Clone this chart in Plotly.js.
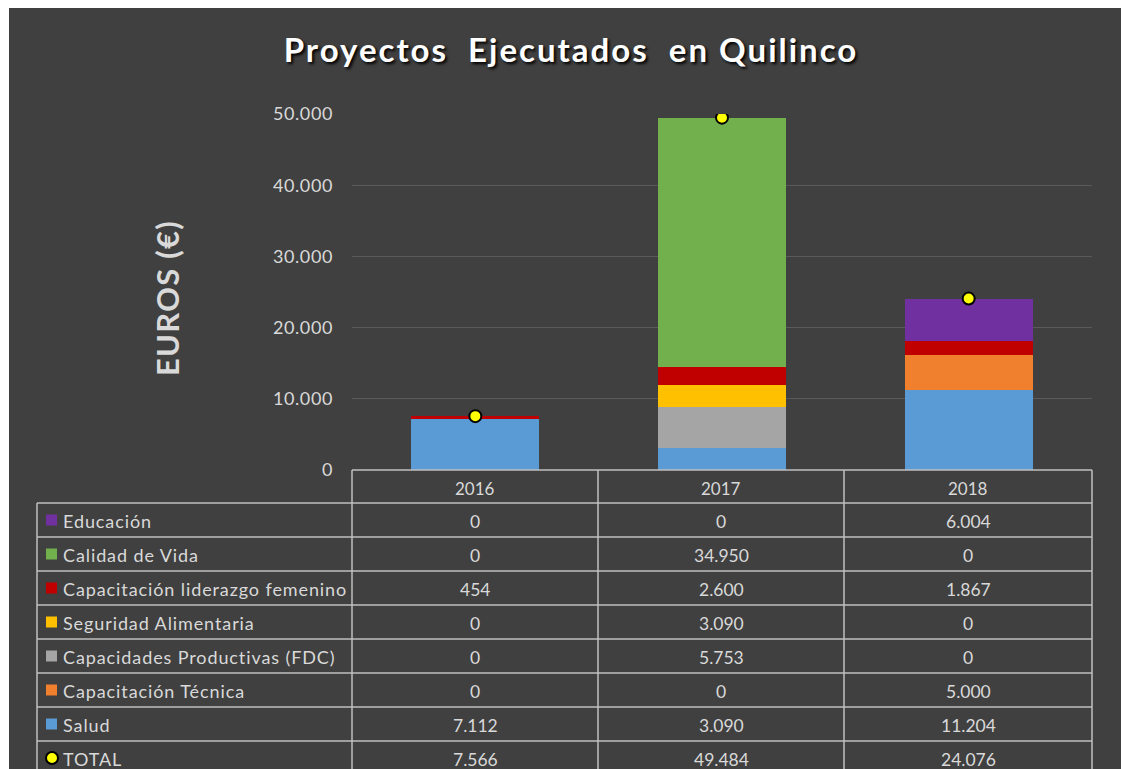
<!DOCTYPE html>
<html>
<head>
<meta charset="utf-8">
<script src="https://cdn.plot.ly/plotly-3.0.1.min.js"></script>
<style>
  body { margin: 0; background: #ffffff; }
  #chart { width: 1121px; height: 769px; }
  #chart .gtitle { letter-spacing: 2px; }
  #chart .ytick text { letter-spacing: 0.6px; }
</style>
</head>
<body>
<div id="chart"></div>
<script>
// Datos del gráfico
const years = ['2016', '2017', '2018'];
const salud = [7112, 3090, 11204];
const capTecnica = [0, 0, 5000];
const capProductivas = [0, 5753, 0];
const segAlimentaria = [0, 3090, 0];
const liderazgo = [454, 2600, 1867];
const calidadVida = [0, 34950, 0];
const educacion = [0, 0, 6004];
const totals = [7566, 49484, 24076];

const W = 1121, H = 769;
const px = x => x / W;
const py = y => 1 - y / H;

const FONT = 'Lato, "Open Sans", sans-serif';
const TXT = '#d9d9d9';
const GRID = '#bfbfbf';

// series de abajo hacia arriba
const series = [
    {name: 'Salud', y: salud, color: '#5b9bd5'},
    {name: 'Capacitación Técnica', y: capTecnica, color: '#f07f2e'},
    {name: 'Capacidades Productivas (FDC)', y: capProductivas, color: '#a5a5a5'},
    {name: 'Seguridad Alimentaria', y: segAlimentaria, color: '#ffc000'},
    {name: 'Capacitación liderazgo femenino', y: liderazgo, color: '#c00000'},
    {name: 'Calidad de Vida', y: calidadVida, color: '#72b04e'},
    {name: 'Educación', y: educacion, color: '#7030a0'}
];

const traces = series.map(s => ({
    x: years,
    y: s.y,
    type: 'bar',
    name: s.name,
    marker: {color: s.color},
    hoverinfo: 'name+y'
}));

traces.push({
    x: years,
    y: totals,
    type: 'scatter',
    mode: 'markers',
    name: 'TOTAL',
    marker: {color: '#ffff00', size: 12, line: {color: '#000000', width: 2}}
});

function fmt(v) {
    return String(v).replace(/\B(?=(\d{3})+(?!\d))/g, '.');
}

// tabla de datos debajo del gráfico
const colX = [352, 598, 844, 1092];
const labelLeft = 37;
const headerTop = 470, rowTop = 503, rowH = 34;
const tableRows = series.slice().reverse().map(s => ({name: s.name, values: s.y, color: s.color}));
tableRows.push({name: 'TOTAL', values: totals, color: null});

const shapes = [];
const annotations = [];

// fondo oscuro
shapes.push({type: 'rect', xref: 'paper', yref: 'paper', layer: 'below',
    x0: px(9), x1: px(W), y0: py(H), y1: py(8),
    fillcolor: '#404040', line: {width: 0}});

function hline(x0, x1, y) {
    shapes.push({type: 'line', xref: 'paper', yref: 'paper',
        x0: px(x0), x1: px(x1), y0: py(y), y1: py(y),
        line: {color: GRID, width: 1.5}});
}
function vline(x, y0, y1) {
    shapes.push({type: 'line', xref: 'paper', yref: 'paper',
        x0: px(x), x1: px(x), y0: py(y0), y1: py(y1),
        line: {color: GRID, width: 1.5}});
}

hline(colX[0], colX[3], headerTop);
for (let i = 0; i <= tableRows.length; i++) {
    hline(labelLeft, colX[3], rowTop + i * rowH);
}
vline(labelLeft, rowTop, H);
colX.forEach(x => vline(x, headerTop, H));

years.forEach((yr, j) => {
    annotations.push({xref: 'paper', yref: 'paper',
        x: px((colX[j] + colX[j + 1]) / 2), y: py(headerTop + rowH / 2 + 1),
        text: yr, showarrow: false, xanchor: 'center', yanchor: 'middle',
        font: {family: FONT, size: 17, color: TXT}});
});

tableRows.forEach((r, i) => {
    const cy = rowTop + i * rowH + rowH / 2;
    if (r.color) {
        shapes.push({type: 'rect', xref: 'paper', yref: 'paper',
            x0: px(46), x1: px(57), y0: py(cy + 5.5), y1: py(cy - 5.5),
            fillcolor: r.color, line: {width: 0}});
    } else {
        shapes.push({type: 'circle', xref: 'paper', yref: 'paper',
            x0: px(46), x1: px(58), y0: py(cy + 6), y1: py(cy - 6),
            fillcolor: '#ffff00', line: {color: '#000000', width: 2}});
    }
    annotations.push({xref: 'paper', yref: 'paper',
        x: px(61), y: py(cy + 1),
        text: '<span style="letter-spacing:0.9px">' + r.name + '</span>',
        showarrow: false, xanchor: 'left', yanchor: 'middle',
        font: {family: FONT, size: 18, color: TXT}});
    r.values.forEach((v, j) => {
        annotations.push({xref: 'paper', yref: 'paper',
            x: px((colX[j] + colX[j + 1]) / 2), y: py(cy + 1),
            text: fmt(v), showarrow: false, xanchor: 'center', yanchor: 'middle',
            font: {family: FONT, size: 17.5, color: TXT}});
    });
});

// título del eje Y
annotations.push({xref: 'paper', yref: 'paper', x: px(167), y: py(298),
    text: '<b><span style="letter-spacing:1.2px">EUROS (€)</span></b>',
    textangle: -90, showarrow: false,
    xanchor: 'center', yanchor: 'middle',
    font: {family: FONT, size: 31, color: TXT}});

const layout = {
    width: W,
    height: H,
    margin: {l: 0, r: 0, t: 0, b: 0},
    paper_bgcolor: '#ffffff',
    plot_bgcolor: 'rgba(0,0,0,0)',
    separators: ',.',
    barmode: 'stack',
    bargap: 0.48,
    showlegend: false,
    title: {
        text: '<b>Proyectos  Ejecutados  en Quilinco</b>',
        x: px(571), y: py(50), xref: 'paper', yref: 'paper',
        xanchor: 'center', yanchor: 'middle',
        font: {family: FONT, size: 33, color: '#ffffff', shadow: '2px 2px 3px #000000'}
    },
    xaxis: {
        domain: [px(352), px(1092)],
        type: 'category',
        showticklabels: false,
        showgrid: false,
        zeroline: false,
        showline: false
    },
    yaxis: {
        domain: [py(470), py(114)],
        range: [0, 50000],
        dtick: 10000,
        tickformat: ',d',
        showgrid: true,
        gridcolor: '#5a5a5a',
        gridwidth: 1,
        zeroline: false,
        ticks: '',
        ticklabelstandoff: 18,
        tickfont: {family: FONT, size: 18, color: TXT}
    },
    shapes: shapes,
    annotations: annotations
};

Plotly.newPlot('chart', traces, layout, {displayModeBar: false});
</script>
</body>
</html>
